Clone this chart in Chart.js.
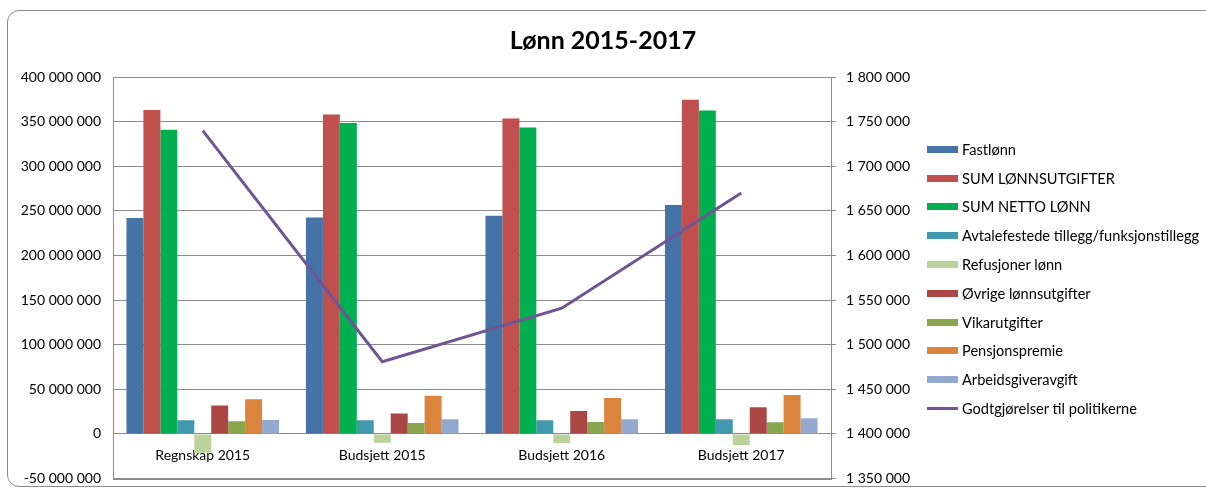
<!DOCTYPE html>
<html>
<head>
<meta charset="utf-8">
<script src="https://cdn.jsdelivr.net/npm/chart.js@4.4.0/dist/chart.umd.min.js"></script>
<style>
  body { margin: 0; background: #fff; font-family: Lato, "Liberation Sans", sans-serif; }
  #wrap { position: relative; width: 1206px; height: 490px; overflow: hidden; }
  #frame { position: absolute; left: 7px; top: 10px; width: 1210px; height: 477px;
           border: 1px solid #8a8a8a; border-radius: 12px; box-sizing: border-box; }
  #chartCanvas { position: absolute; left: 0; top: 0; }
  #legend-container { position: absolute; left: 927px; top: 135px; }
  #legend-container ul { list-style: none; margin: 0; padding: 0; }
  #legend-container li { display: flex; align-items: center; height: 28.8px; font-size: 14.6px; color: #000; white-space: nowrap; }
</style>
</head>
<body>
<div id="wrap">
  <div id="frame"></div>
  <canvas id="chartCanvas" width="1206" height="499"></canvas>
  <div id="legend-container"></div>
</div>
<script>
// kategorier
const kategorier = ['Regnskap 2015', 'Budsjett 2015', 'Budsjett 2016', 'Budsjett 2017'];

// serier (kr)
const fastlonn = [242000000, 242500000, 244500000, 256500000];
const sumLonnsutgifter = [363000000, 358000000, 353500000, 374500000];
const sumNettoLonn = [341000000, 348500000, 343500000, 362500000];
const avtalefestede = [15300000, 15300000, 15300000, 16400000];
const refusjoner = [-21000000, -9700000, -10400000, -12300000];
const ovrige = [32000000, 23000000, 25700000, 29900000];
const vikarutgifter = [14200000, 12300000, 13400000, 13100000];
const pensjonspremie = [38800000, 42900000, 40300000, 43700000];
const arbeidsgiveravgift = [15700000, 16400000, 16400000, 17500000];
const godtgjorelser = [1740000, 1481000, 1541000, 1670000];

const serienavn = ['Fastlønn', 'SUM LØNNSUTGIFTER', 'SUM NETTO LØNN', 'Avtalefestede tillegg/funksjonstillegg',
  'Refusjoner lønn', 'Øvrige lønnsutgifter', 'Vikarutgifter', 'Pensjonspremie', 'Arbeidsgiveravgift'];
const farger = ['#4572a7', '#c0504d', '#00b050', '#4198af', '#bbd29a', '#aa4643', '#89a54e', '#db843d', '#93a9cf'];
const linjeNavn = 'Godtgjørelser til politikerne';
const linjeFarge = '#6f5596';

const serier = [fastlonn, sumLonnsutgifter, sumNettoLonn, avtalefestede, refusjoner, ovrige, vikarutgifter, pensjonspremie, arbeidsgiveravgift];

function formatTall(v) {
  const s = Math.abs(v).toString().replace(/\B(?=(\d{3})+(?!\d))/g, ' ');
  return (v < 0 ? '-' : '') + s;
}

const datasets = serier.map((d, i) => ({
  type: 'bar',
  label: serienavn[i],
  data: d,
  backgroundColor: farger[i],
  borderWidth: 0,
  yAxisID: 'y',
  order: 1,
  categoryPercentage: 0.85,
  barPercentage: 1.0,
}));

datasets.push({
  type: 'line',
  label: linjeNavn,
  data: godtgjorelser,
  borderColor: linjeFarge,
  borderWidth: 3,
  pointRadius: 0,
  fill: false,
  tension: 0,
  yAxisID: 'y1',
  order: 0,
});

// ramme rundt plotteområdet
const plotRamme = {
  id: 'plotRamme',
  afterDatasetsDraw(chart) {
    const a = chart.chartArea;
    const c = chart.ctx;
    c.save();
    c.strokeStyle = '#8c8c8c';
    c.lineWidth = 1;
    c.strokeRect(Math.round(a.left) + 0.5, Math.round(a.top) + 0.5, Math.round(a.right - a.left), Math.round(a.bottom - a.top));
    c.restore();
  }
};

const fontTicks = { family: 'Lato, "Liberation Sans", sans-serif', size: 14 };

const ctx = document.getElementById('chartCanvas').getContext('2d');
const chart = new Chart(ctx, {
  data: { labels: kategorier, datasets: datasets },
  options: {
    responsive: false,
    animation: false,
    layout: { padding: { left: 0, right: 0, top: 0, bottom: 2 } },
    scales: {
      x: {
        position: { y: 0 },
        grid: { display: false, drawTicks: false },
        border: { display: true, color: '#8c8c8c' },
        ticks: { color: '#000', font: fontTicks, padding: 13 },
        afterFit(scale) { scale.height = 0; },
      },
      y: {
        position: 'left',
        min: -50000000,
        max: 400000000,
        ticks: { stepSize: 50000000, color: '#000', font: fontTicks, padding: 12, callback: v => formatTall(v) },
        grid: { color: '#8c8c8c', drawTicks: false },
        border: { display: false },
        afterFit(scale) { scale.width = 113; },
      },
      y1: {
        position: 'right',
        min: 1350000,
        max: 1800000,
        ticks: { stepSize: 50000, color: '#000', font: fontTicks, padding: 10, callback: v => formatTall(v) },
        grid: { drawOnChartArea: false, color: '#8c8c8c', tickLength: 5 },
        border: { display: true, color: '#8c8c8c' },
        afterFit(scale) { scale.width = 375; },
      }
    },
    plugins: {
      legend: { display: false },
      tooltip: { enabled: false },
      title: {
        display: true,
        text: 'Lønn 2015-2017',
        color: '#000',
        font: { family: 'Lato, "Liberation Sans", sans-serif', size: 25, weight: 'bold', lineHeight: 1.2 },
        padding: { top: 26, bottom: 21 },
      }
    }
  },
  plugins: [plotRamme]
});

// legende
const ul = document.createElement('ul');
serienavn.forEach((navn, i) => {
  const li = document.createElement('li');
  const boks = document.createElement('span');
  boks.style.display = 'inline-block';
  boks.style.width = '31px';
  boks.style.height = '7px';
  boks.style.marginRight = '4px';
  boks.style.background = farger[i];
  li.appendChild(boks);
  li.appendChild(document.createTextNode(navn));
  ul.appendChild(li);
});
const liLinje = document.createElement('li');
const strek = document.createElement('span');
strek.style.display = 'inline-block';
strek.style.width = '31px';
strek.style.height = '3px';
strek.style.marginRight = '4px';
strek.style.background = linjeFarge;
liLinje.appendChild(strek);
liLinje.appendChild(document.createTextNode(linjeNavn));
ul.appendChild(liLinje);
document.getElementById('legend-container').appendChild(ul);
</script>
</body>
</html>
